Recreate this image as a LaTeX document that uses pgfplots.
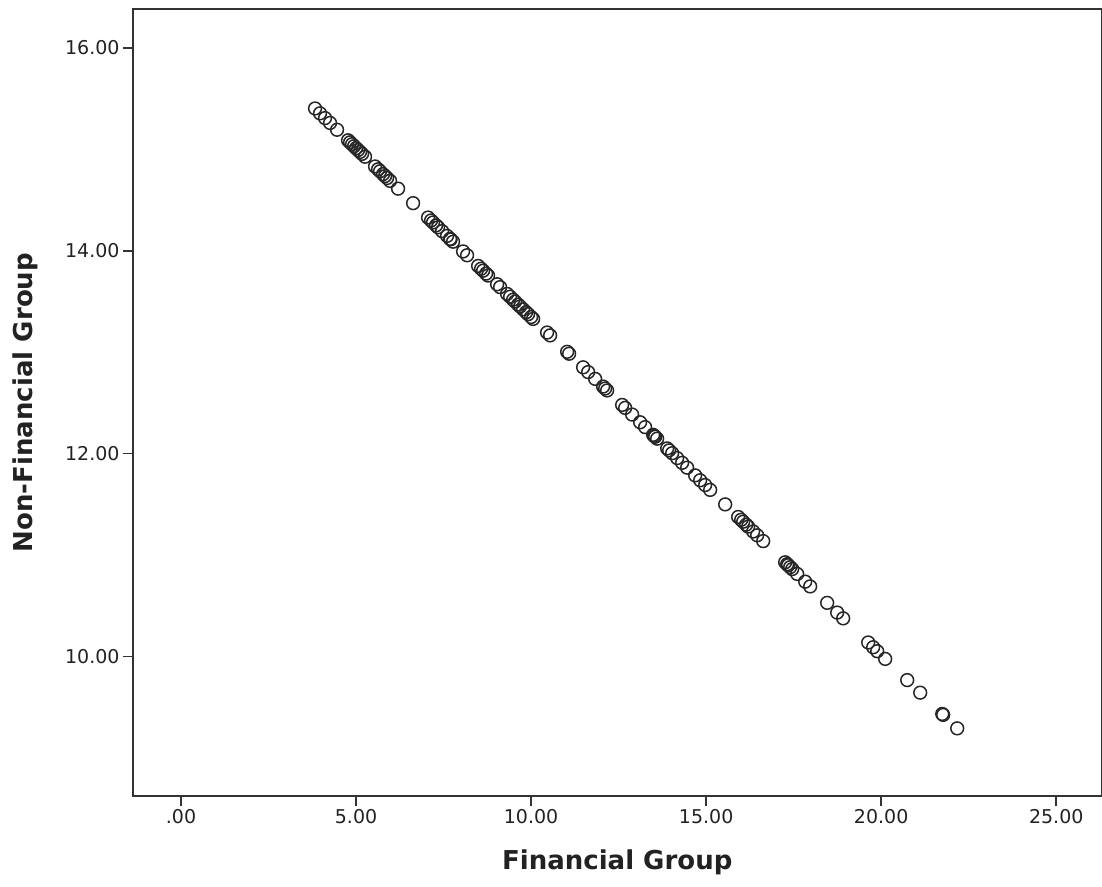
\documentclass[border=0pt]{standalone}
\usepackage{fontspec}
\setmainfont{DejaVu Sans}
\usepackage{pgfplots}
\pgfplotsset{compat=1.18}
\definecolor{axgray}{HTML}{333333}
\definecolor{mk}{HTML}{262626}
\definecolor{txt}{HTML}{222222}
\begin{document}
\begin{tikzpicture}
\begin{axis}[
  scale only axis, width=968pt, height=787pt,
  xmin=-1.37, xmax=26.29, ymin=8.62, ymax=16.385,
  axis line style={axgray, line width=1.8pt},
  tick style={axgray, line width=1.6pt},
  tick align=outside, major tick length=10pt,
  tick pos=left,
  xtick={0,5,10,15,20,25},
  xticklabels={.00,5.00,10.00,15.00,20.00,25.00},
  ytick={10,12,14,16},
  yticklabels={10.00,12.00,14.00,16.00},
  tick label style={font=\fontsize{19}{22}\selectfont, text=txt},
  xlabel={Financial Group},
  ylabel={Non-Financial Group},
  label style={font=\fontsize{26}{30}\selectfont\bfseries, text=txt},
  x label style={at={([yshift=-66pt]axis description cs:0.5,0)}, anchor=center},
  y label style={at={([xshift=-108pt]axis description cs:0,0.5)}, anchor=center},
]
\addplot[only marks, mark=o, mark size=6.4pt, mark options={line width=1.5pt, draw=mk}] table {
x y
3.829 15.404
3.971 15.356
4.114 15.309
4.257 15.261
4.457 15.194
4.771 15.090
4.829 15.070
4.886 15.051
4.943 15.032
5.000 15.013
5.057 14.994
5.114 14.975
5.171 14.956
5.257 14.928
5.543 14.832
5.629 14.804
5.686 14.785
5.771 14.756
5.829 14.737
5.886 14.718
5.971 14.690
6.200 14.613
6.629 14.470
7.057 14.328
7.143 14.299
7.200 14.280
7.286 14.251
7.343 14.232
7.457 14.194
7.600 14.147
7.686 14.118
7.700 14.113
7.771 14.090
8.057 13.994
8.171 13.956
8.486 13.851
8.571 13.823
8.629 13.804
8.714 13.775
8.771 13.756
9.029 13.670
9.114 13.642
9.314 13.575
9.400 13.547
9.486 13.518
9.543 13.499
9.629 13.470
9.686 13.451
9.771 13.423
9.857 13.394
9.914 13.375
10.000 13.347
10.057 13.328
10.457 13.194
10.543 13.166
11.029 13.004
11.086 12.985
11.486 12.851
11.629 12.804
11.829 12.737
12.057 12.661
12.114 12.642
12.171 12.623
12.600 12.480
12.686 12.451
12.886 12.385
13.114 12.309
13.257 12.261
13.486 12.185
13.514 12.175
13.543 12.166
13.600 12.147
13.886 12.051
13.943 12.032
14.029 12.004
14.171 11.956
14.314 11.909
14.457 11.861
14.686 11.785
14.829 11.737
14.971 11.690
15.114 11.642
15.543 11.499
15.914 11.375
16.000 11.347
16.057 11.328
16.143 11.299
16.200 11.280
16.343 11.232
16.457 11.194
16.629 11.137
17.257 10.928
17.314 10.909
17.343 10.899
17.400 10.880
17.457 10.861
17.600 10.813
17.829 10.737
17.971 10.690
18.457 10.528
18.743 10.432
18.914 10.375
19.629 10.137
19.771 10.090
19.886 10.051
20.114 9.975
20.743 9.766
21.114 9.642
21.743 9.432
21.771 9.423
22.171 9.290
};
\coordinate (sw) at (rel axis cs:0,0);
\coordinate (ne) at (rel axis cs:1,1);
\end{axis}
\pgfresetboundingbox
\path[use as bounding box] ([shift={(-133pt,-90pt)}]sw) rectangle ([shift={(0.6pt,9pt)}]ne);
\end{tikzpicture}
\end{document}
